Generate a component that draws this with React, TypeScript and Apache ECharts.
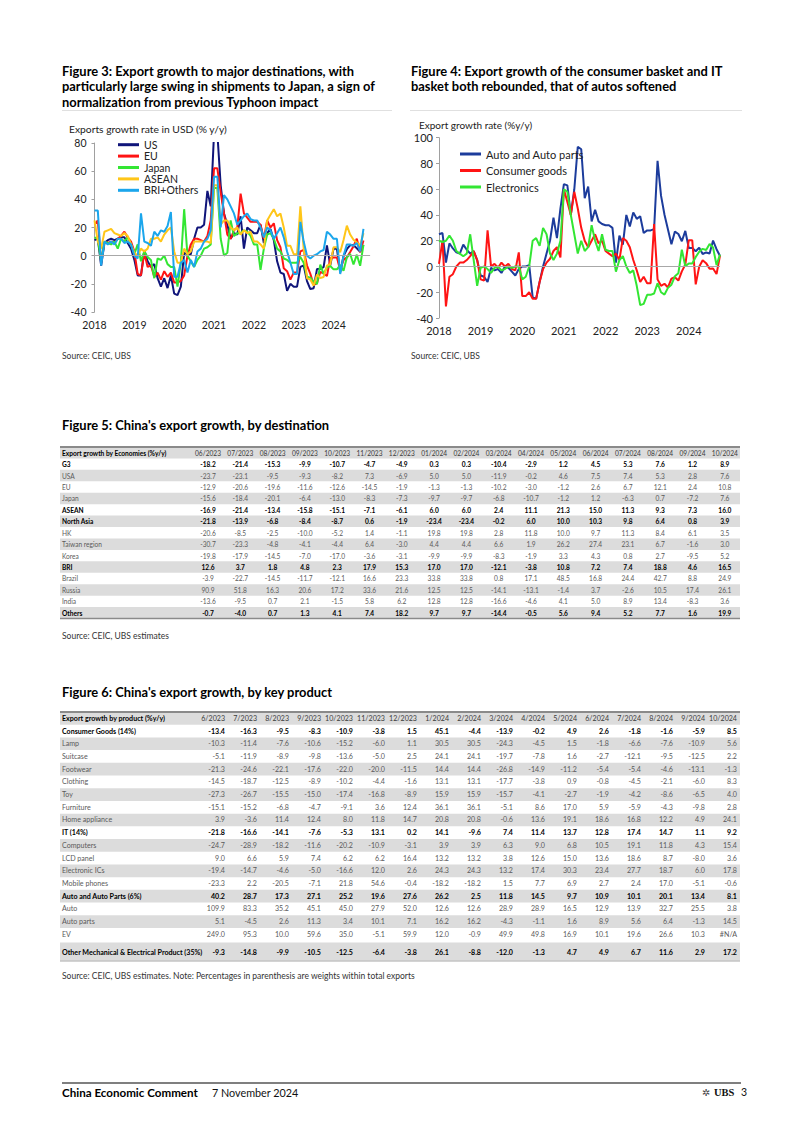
import React, { useEffect, useRef } from 'react';
import * as echarts from 'echarts';

const FONT = 'Lato, "Open Sans", "Noto Sans", sans-serif';

// ---------- Figure 3 / 4 categories ----------
const YEARS = [2018, 2019, 2020, 2021, 2022, 2023, 2024];
const MONTHS_FIG3 = YEARS.flatMap((y) => Array.from({ length: 12 }, (_, m) => `${y}-${String(m + 1).padStart(2, '0')}`));
const MONTHS_FIG4 = MONTHS_FIG3.slice(0, 82);

// ---------- Figure 3: exports growth by destination (% y/y), Jan 2018 - Oct 2024 ----------
const US = [
  11, 12, -7, 9, 11, 12, 11, 12, 13, 13, 9, 5,
  -3, -14, -14, 4, -4, -8, -6, -16, -22, -16, -23, -14,
  -27, -28, -22, 2, 1, 1, 12, 20, 20, 22, 46, 35,
  87, 87, 50, 30, 22, 12, 16, 15, 28, 5, 20, 18,
  16, 16, 22, 9, 16, 19, 11, -4, -12, -13, -25, -20,
  -22, -22, -8, -7, -18, -23.7, -23.1, -9.5, -9.3, -8.2, 7.3, -6.9,
  5.0, 5.0, -11.9, -0.2, 4.6, 7.5, 7.4, 5.3, 2.8, 7.6,
];
const EU = [
  22, 25, -5, 10, 9, 10, 9, 12, 14, 17, 13, 10,
  3, -13, -14, 2, -8, -7, -15, -12, -17, -11, -15, -12,
  -19, -19, -18, -14, 0, 8, 12, 12, 11, 10, 14, 25,
  62, 62, 45, 30, 15, 12, 18, 20, 44, 30, 27, 24,
  24, 24, 22, 12, 25, 20, 23, 11, 6, -9, -11, -17,
  -12, -12, 3, 4, -7, -12.9, -20.6, -19.6, -11.6, -12.6, -14.5, -1.9,
  -1.3, -1.3, -10.2, -3.0, -1.2, 2.6, 6.7, 12.1, 2.4, 10.8,
];
const JAPAN = [
  13, 12, -4, 10, 9, 8, 10, 5, 12, 10, 13, 8,
  1, 8, -4, 3, -1, -3, -16, -2, -3, 0, -6, -8,
  -8, -22, -5, 33, 0, -4, -8, -3, 0, 5, 6, 8,
  48, 48, 12, 0, 2, 25, 14, 16, 16, 18, 17, 14,
  8, 8, -10, 5, 15, 16, 12, 5, 3, -2, -3, -5,
  -5, -5, -1, -5, -15, -15.6, -18.4, -20.1, -6.4, -13.0, -8.3, -7.3,
  -9.7, -9.7, -6.8, -10.7, -1.2, 1.2, -6.3, 0.7, -7.2, 7.6,
];
const ASEAN = [
  25, 10, 5, 17, 18, 19, 16, 15, 14, 16, 14, 8,
  2, 0, 5, 3, 5, 12, 12, 13, 10, 15, 18, 20,
  3, -5, -5, 5, 1, 3, 10, 10, 10, 10, 10, 9,
  50, 50, 22, 25, 25, 20, 18, 20, 15, 18, 16, 17,
  10, 10, 8, 5, 25, 29, 33, 28, 30, 20, 7, 7,
  1, 1, 35, 5, -16, -16.9, -21.4, -13.4, -15.8, -15.1, -7.1, -6.1,
  6.0, 6.0, 2.4, 11.1, 21.3, 15.0, 11.3, 9.3, 7.3, 16.0,
];
const BRI_OTHERS = [
  32, 32, -7, 10, 8, 10, 8, 12, 12, 9, 10, 8,
  0, -2, 30, 10, 9, 7, 17, 14, 18, 17, 21, 31,
  -15, -15, -5, -3, -12, -3, -8, 3, 5, 10, 12, 18,
  56, 56, 20, 43, 40, 35, 30, 22, 25, 28, 30, 26,
  25, 25, 20, 13, 20, 18, 12, 16, 20, 13, 3, -5,
  -13, -13, 24, 10, 0, -2, 0, 1, 3, 4, 17, 15,
  12, 12, -13, 0, 8, 8, 7, 9, 3, 19,
];

// ---------- Figure 4: export growth by basket (% y/y), Jan 2018 - Oct 2024 ----------
const AUTO = [
  25, 26, 3, 18, 14, 11, 10, 17, 13, 10, 12, 5,
  -7, -8, -12, -1, -3, -2, -5, 0, -1, -4, -7, -2,
  0, 0, 1, -24, -25, -12, 0, 10, 20, 38, 22, 45,
  64, 63, 40, 60, 93, 91, 53, 62, 35, 44, 35, 33,
  32, 32, 30, 3, 24, 17, 40, 31, 42, 37, 39, 26,
  28, 28, 29, 82, 55, 40.2, 28.7, 17.3, 27.1, 25.2, 19.6, 27.6,
  14.4, 14.4, 11.8, 14.5, 9.7, 10.9, 10.1, 20.1, 13.4, 8.1,
];
const CONSUMER = [
  2, 20, -31, -8, -6, 0, 3, 3, 5, 8, 12, 5,
  -10, -11, 28, 0, 2, -1, 3, 0, 2, -2, -3, 11,
  -23, -23, -20, -25, -25, -12, -2, 3, 6, 12, 15, 7,
  60, 50, 40, 58, 45, 30, 20, 15, 20, 25, 18, 20,
  12, 10, 8, 10, 5, 22, 20, 15, 5, -3, -12, -8,
  -13, -13, 33, -10, -15, -13.4, -16.3, -9.5, -8.3, -10.9, -3.8, 1.5,
  20.4, 20.4, -13.9, -0.2, 4.9, 2.6, -1.8, -1.6, -5.9, 8.5,
];
const ELECTRONICS = [
  20, 19, 20, 24, 20, 12, 10, 8, 10, 25, 5, -15,
  -1, 0, -2, -5, -1, 0, -3, -2, 0, -1, 0, 0,
  -10, -8, 0, 20, 22, 16, 30, 25, 10, 5, 10, 20,
  60, 58, 40, 25, 10, 20, 12, 15, 32, 20, 12, 25,
  13, 12, 12, -4, 5, 8, 0, -5, -3, -15, -30, -29,
  -22, -22, -21, -13, -20, -21.8, -16.6, -14.1, -7.6, -5.3, 13.1, 0.2,
  2.3, 2.3, 7.4, 11.4, 13.7, 12.8, 17.4, 14.7, 1.1, 9.2,
];

// ---------- Figure 5 table ----------
const T5_HEADER = 'Export growth by Economies (%y/y)';
const T5_COLS = ['06/2023', '07/2023', '08/2023', '09/2023', '10/2023', '11/2023', '12/2023', '01/2024', '02/2024', '03/2024', '04/2024', '05/2024', '06/2024', '07/2024', '08/2024', '09/2024', '10/2024'];
const T5_NAMES = ['G3', 'USA', 'EU', 'Japan', 'ASEAN', 'North Asia', 'HK', 'Taiwan region', 'Korea', 'BRI', 'Brazil', 'Russia', 'India', 'Others'];
const T5_BOLD = [true, false, false, false, true, true, false, false, false, true, false, false, false, true];
const T5_VALUES = [
  ['-18.2', '-21.4', '-15.3', '-9.9', '-10.7', '-4.7', '-4.9', '0.3', '0.3', '-10.4', '-2.9', '1.2', '4.5', '5.3', '7.6', '1.2', '8.9'],
  ['-23.7', '-23.1', '-9.5', '-9.3', '-8.2', '7.3', '-6.9', '5.0', '5.0', '-11.9', '-0.2', '4.6', '7.5', '7.4', '5.3', '2.8', '7.6'],
  ['-12.9', '-20.6', '-19.6', '-11.6', '-12.6', '-14.5', '-1.9', '-1.3', '-1.3', '-10.2', '-3.0', '-1.2', '2.6', '6.7', '12.1', '2.4', '10.8'],
  ['-15.6', '-18.4', '-20.1', '-6.4', '-13.0', '-8.3', '-7.3', '-9.7', '-9.7', '-6.8', '-10.7', '-1.2', '1.2', '-6.3', '0.7', '-7.2', '7.6'],
  ['-16.9', '-21.4', '-13.4', '-15.8', '-15.1', '-7.1', '-6.1', '6.0', '6.0', '2.4', '11.1', '21.3', '15.0', '11.3', '9.3', '7.3', '16.0'],
  ['-21.8', '-13.9', '-6.8', '-8.4', '-8.7', '0.6', '-1.9', '-23.4', '-23.4', '-0.2', '6.0', '10.0', '10.3', '9.8', '6.4', '0.8', '3.9'],
  ['-20.6', '-8.5', '-2.5', '-10.0', '-5.2', '1.4', '-1.1', '19.8', '19.8', '2.8', '11.8', '10.0', '9.7', '11.3', '8.4', '6.1', '3.5'],
  ['-30.7', '-23.3', '-4.8', '-4.1', '-4.4', '6.4', '-3.0', '4.4', '4.4', '6.6', '1.9', '26.2', '27.4', '23.1', '6.7', '-1.6', '3.0'],
  ['-19.8', '-17.9', '-14.5', '-7.0', '-17.0', '-3.6', '-3.1', '-9.9', '-9.9', '-8.3', '-1.9', '3.3', '4.3', '0.8', '2.7', '-9.5', '5.2'],
  ['12.6', '3.7', '1.8', '4.8', '2.3', '17.9', '15.3', '17.0', '17.0', '-12.1', '-3.8', '10.8', '7.2', '7.4', '18.8', '4.6', '16.5'],
  ['-3.9', '-22.7', '-14.5', '-11.7', '-12.1', '16.6', '23.3', '33.8', '33.8', '0.8', '17.1', '48.5', '16.8', '24.4', '42.7', '8.8', '24.9'],
  ['90.9', '51.8', '16.3', '20.6', '17.2', '33.6', '21.6', '12.5', '12.5', '-14.1', '-13.1', '-1.4', '3.7', '-2.6', '10.5', '17.4', '26.1'],
  ['-13.6', '-9.5', '0.7', '2.1', '-1.5', '5.8', '6.2', '12.8', '12.8', '-16.6', '-4.6', '4.1', '5.0', '8.9', '13.4', '-8.3', '3.6'],
  ['-0.7', '-4.0', '0.7', '1.3', '4.1', '7.4', '18.2', '9.7', '9.7', '-14.4', '-0.5', '5.6', '9.4', '5.2', '7.7', '1.6', '19.9'],
];

// ---------- Figure 6 table ----------
const T6_HEADER = 'Export growth by product (%y/y)';
const T6_COLS = ['6/2023', '7/2023', '8/2023', '9/2023', '10/2023', '11/2023', '12/2023', '1/2024', '2/2024', '3/2024', '4/2024', '5/2024', '6/2024', '7/2024', '8/2024', '9/2024', '10/2024'];
const T6_NAMES = ['Consumer Goods (14%)', 'Lamp', 'Suitcase', 'Footwear', 'Clothing', 'Toy', 'Furniture', 'Home appliance', 'IT (14%)', 'Computers', 'LCD panel', 'Electronic ICs', 'Mobile phones', 'Auto and Auto Parts (6%)', 'Auto', 'Auto parts', 'EV', 'Other Mechanical & Electrical Product (35%)'];
const T6_BOLD = [true, false, false, false, false, false, false, false, true, false, false, false, false, true, false, false, false, true];
const T6_VALUES = [
  ['-13.4', '-16.3', '-9.5', '-8.3', '-10.9', '-3.8', '1.5', '45.1', '-4.4', '-13.9', '-0.2', '4.9', '2.6', '-1.8', '-1.6', '-5.9', '8.5'],
  ['-10.3', '-11.4', '-7.6', '-10.6', '-15.2', '-6.0', '1.1', '30.5', '30.5', '-24.3', '-4.5', '1.5', '-1.8', '-6.6', '-7.6', '-10.9', '5.6'],
  ['-5.1', '-11.9', '-8.9', '-9.8', '-13.6', '-5.0', '2.5', '24.1', '24.1', '-19.7', '-7.8', '1.6', '-2.7', '-12.1', '-9.5', '-12.5', '2.2'],
  ['-21.3', '-24.6', '-22.1', '-17.6', '-22.0', '-20.0', '-11.5', '14.4', '14.4', '-26.8', '-14.9', '-11.2', '-5.4', '-5.4', '-4.6', '-13.1', '-1.3'],
  ['-14.5', '-18.7', '-12.5', '-8.9', '-10.2', '-4.4', '-1.6', '13.1', '13.1', '-17.7', '-3.8', '0.9', '-0.8', '-4.5', '-2.1', '-6.0', '8.3'],
  ['-27.3', '-26.7', '-15.5', '-15.0', '-17.4', '-16.8', '-8.9', '15.9', '15.9', '-15.7', '-4.1', '-2.7', '-1.9', '-4.2', '-8.6', '-6.5', '4.0'],
  ['-15.1', '-15.2', '-6.8', '-4.7', '-9.1', '3.6', '12.4', '36.1', '36.1', '-5.1', '8.6', '17.0', '5.9', '-5.9', '-4.3', '-9.8', '2.8'],
  ['3.9', '-3.6', '11.4', '12.4', '8.0', '11.8', '14.7', '20.8', '20.8', '-0.6', '13.6', '19.1', '18.6', '16.8', '12.2', '4.9', '24.1'],
  ['-21.8', '-16.6', '-14.1', '-7.6', '-5.3', '13.1', '0.2', '14.1', '-9.6', '7.4', '11.4', '13.7', '12.8', '17.4', '14.7', '1.1', '9.2'],
  ['-24.7', '-28.9', '-18.2', '-11.6', '-20.2', '-10.9', '-3.1', '3.9', '3.9', '6.3', '9.0', '6.8', '10.5', '19.1', '11.8', '4.3', '15.4'],
  ['9.0', '6.6', '5.9', '7.4', '6.2', '6.2', '16.4', '13.2', '13.2', '3.8', '12.6', '15.0', '13.6', '18.6', '8.7', '-8.0', '3.6'],
  ['-19.4', '-14.7', '-4.6', '-5.0', '-16.6', '12.0', '2.6', '24.3', '24.3', '13.2', '17.4', '30.3', '23.4', '27.7', '18.7', '6.0', '17.8'],
  ['-23.3', '2.2', '-20.5', '-7.1', '21.8', '54.6', '-0.4', '-18.2', '-18.2', '1.5', '7.7', '6.9', '2.7', '2.4', '17.0', '-5.1', '-0.6'],
  ['40.2', '28.7', '17.3', '27.1', '25.2', '19.6', '27.6', '26.2', '2.5', '11.8', '14.5', '9.7', '10.9', '10.1', '20.1', '13.4', '8.1'],
  ['109.9', '83.3', '35.2', '45.1', '45.0', '27.9', '52.0', '12.6', '12.6', '28.9', '28.9', '16.5', '12.9', '13.9', '32.7', '25.5', '3.8'],
  ['5.1', '-4.5', '2.6', '11.3', '3.4', '10.1', '7.1', '16.2', '16.2', '-4.3', '-1.1', '1.6', '8.9', '5.6', '6.4', '-1.3', '14.5'],
  ['249.0', '95.3', '10.0', '59.6', '35.0', '-5.1', '59.9', '12.0', '-0.9', '49.9', '49.8', '16.9', '10.1', '19.6', '26.6', '10.3', '#N/A'],
  ['-9.3', '-14.8', '-9.9', '-10.5', '-12.5', '-6.4', '-3.8', '26.1', '-8.8', '-12.0', '-1.3', '4.7', '4.9', '6.7', '11.6', '2.9', '17.2'],
];

// ---------- helpers ----------
const STRIPE = '#dcdcdc';

function txt(x: number, y: number, text: string, size: number, weight: any = 'normal', color = '#000', align = 'left', family = FONT) {
  return {
    type: 'text', x, y, silent: true,
    style: {
      text, fontSize: size, fontWeight: weight, fontFamily: family, fill: color,
      align, verticalAlign: 'middle', textAlign: align, textVerticalAlign: 'middle',
    },
  };
}

type TableCfg = {
  header: string; cols: string[]; names: string[]; bold: boolean[]; values: string[][];
  xMin: number; xMax: number; colPos: (c: number) => number; align: string;
  rowBand: (r: number) => [number, number]; rowText: (r: number) => number;
  bottom: number; topColor: string; bottomColor: string; fontSize: number;
};

function tableSeries(cfg: TableCfg, axisIndex: number) {
  const n = cfg.names.length + 1;
  return {
    type: 'custom',
    xAxisIndex: axisIndex,
    yAxisIndex: axisIndex,
    silent: true,
    encode: { x: 0, y: 1 },
    data: Array.from({ length: n }, (_, r) => [0, r]),
    renderItem: (_params: any, api: any) => {
      const r = api.value(1) as number;
      const [b0, b1] = cfg.rowBand(r);
      const p0 = api.coord([cfg.xMin, b0]);
      const p1 = api.coord([cfg.xMax, b1]);
      const ty = api.coord([0, cfg.rowText(r)])[1];
      const children: any[] = [];
      if (r % 2 === 0) {
        children.push({ type: 'rect', shape: { x: p0[0], y: p0[1], width: p1[0] - p0[0], height: p1[1] - p0[1] }, style: { fill: STRIPE } });
      }
      const header = r === 0;
      const bold = header ? true : cfg.bold[r - 1];
      children.push(txt(p0[0] + 2, ty, header ? cfg.header : cfg.names[r - 1], cfg.fontSize, bold ? 'bold' : 'normal', bold ? '#000' : '#5a5a5a'));
      const cells = header ? cfg.cols : cfg.values[r - 1];
      cells.forEach((s, c) => {
        const x = api.coord([cfg.colPos(c), 0])[0];
        const isB = !header && bold;
        children.push(txt(x, ty, s, cfg.fontSize, isB ? 'bold' : 'normal', header ? '#3a3a3a' : isB ? '#000' : '#5a5a5a', cfg.align));
      });
      if (header) {
        const t = api.coord([0, 0])[1];
        children.push({ type: 'line', shape: { x1: p0[0], y1: t, x2: p1[0], y2: t }, style: { stroke: cfg.topColor, lineWidth: 2 } });
      }
      if (r === n - 1) {
        const yb = api.coord([0, cfg.bottom])[1];
        children.push({ type: 'line', shape: { x1: p0[0], y1: yb, x2: p1[0], y2: yb }, style: { stroke: cfg.bottomColor, lineWidth: 1.5 } });
      }
      return { type: 'group', children };
    },
  };
}

function lineSeries(name: string, data: number[], color: string, idx: number, extra: any = {}) {
  return {
    type: 'line', name, data, xAxisIndex: idx, yAxisIndex: idx,
    showSymbol: false, symbol: 'none', lineStyle: { width: 2, color }, itemStyle: { color },
    ...extra,
  };
}

const zeroLine = {
  silent: true, symbol: ['none', 'none'], label: { show: false },
  lineStyle: { color: '#a8a8a8', width: 1, type: 'solid' }, data: [{ yAxis: 0 }],
};

const C_US = '#10157a';
const C_EU = '#ff1414';
const C_JP = '#33e633';
const C_AS = '#ffc619';
const C_BRI = '#1ba6ec';
const C_AUTO = '#1c3c9c';

function buildOption() {
  const axisLabel = { fontSize: 10.5, color: '#222', fontFamily: FONT };
  const t5: TableCfg = {
    header: T5_HEADER, cols: T5_COLS, names: T5_NAMES, bold: T5_BOLD, values: T5_VALUES,
    xMin: -4.082, xMax: 16.97, colPos: (c) => c + 0.5, align: 'center',
    rowBand: (r) => [r, r + 1], rowText: (r) => r + 0.5, bottom: 15,
    topColor: '#8a8a8a', bottomColor: '#8a8a8a', fontSize: 6.6,
  };
  const t6: TableCfg = {
    header: T6_HEADER, cols: T6_COLS, names: T6_NAMES, bold: T6_BOLD, values: T6_VALUES,
    xMin: -4.156, xMax: 17.094, colPos: (c) => c + 1, align: 'right',
    rowBand: (r) => (r < 18 ? [r, r + 1] : [18.15, 19.6]), rowText: (r) => (r < 18 ? r + 0.5 : 18.96), bottom: 19.6,
    topColor: '#8a8a8a', bottomColor: '#c4c4c4', fontSize: 7.1,
  };

  return {
    animation: false,
    backgroundColor: '#ffffff',
    textStyle: { fontFamily: FONT },
    grid: [
      { left: 94.5, top: 143, width: 275.6, height: 169 },
      { left: 439, top: 137.7, width: 281, height: 180.3 },
      { left: 60, top: 447, width: 680, height: 171.5 },
      { left: 60, top: 712, width: 680, height: 249 },
    ],
    xAxis: [
      {
        gridIndex: 0, type: 'category', data: MONTHS_FIG3, boundaryGap: false,
        axisLine: { show: false }, axisTick: { show: false }, splitLine: { show: false },
        axisLabel: { ...axisLabel, interval: 11, margin: 7, formatter: (v: string) => v.slice(0, 4) },
      },
      {
        gridIndex: 1, type: 'category', data: MONTHS_FIG4, boundaryGap: false,
        axisLine: { show: false }, axisTick: { show: false }, splitLine: { show: false },
        axisLabel: { ...axisLabel, fontSize: 11, interval: 11, margin: 7, formatter: (v: string) => v.slice(0, 4) },
      },
      { gridIndex: 2, type: 'value', min: t5.xMin, max: t5.xMax, show: false },
      { gridIndex: 3, type: 'value', min: t6.xMin, max: t6.xMax, show: false },
    ],
    yAxis: [
      {
        gridIndex: 0, type: 'value', min: -40, max: 80, interval: 20,
        axisLine: { show: true, lineStyle: { color: '#a0a0a0' } },
        axisTick: { show: true, length: 3, lineStyle: { color: '#a0a0a0' } },
        splitLine: { show: false }, axisLabel: { ...axisLabel, margin: 8 },
      },
      {
        gridIndex: 1, type: 'value', min: -40, max: 100, interval: 20,
        axisLine: { show: true, lineStyle: { color: '#a0a0a0' } },
        axisTick: { show: true, length: 3, lineStyle: { color: '#a0a0a0' } },
        splitLine: { show: false }, axisLabel: { ...axisLabel, fontSize: 11, margin: 6 },
      },
      { gridIndex: 2, type: 'value', min: 0, max: 15, inverse: true, show: false },
      { gridIndex: 3, type: 'value', min: 0, max: 19.6, inverse: true, show: false },
    ],
    legend: [
      {
        orient: 'vertical', left: 113, top: 134, itemWidth: 21, itemHeight: 3, itemGap: 0, icon: 'rect',
        textStyle: { fontSize: 10.5, lineHeight: 11.4, color: '#222', fontFamily: FONT },
        data: ['US', 'EU', 'Japan', 'ASEAN', 'BRI+Others'],
      },
      {
        orient: 'vertical', left: 455, top: 142, itemWidth: 21, itemHeight: 3, itemGap: 2.5, icon: 'rect',
        textStyle: { fontSize: 11, lineHeight: 14, color: '#222', fontFamily: FONT },
        data: ['Auto and Auto parts', 'Consumer goods', 'Electronics'],
      },
    ],
    series: [
      lineSeries('US', US, C_US, 0, { markLine: zeroLine }),
      lineSeries('EU', EU, C_EU, 0),
      lineSeries('Japan', JAPAN, C_JP, 0),
      lineSeries('ASEAN', ASEAN, C_AS, 0),
      lineSeries('BRI+Others', BRI_OTHERS, C_BRI, 0),
      lineSeries('Auto and Auto parts', AUTO, C_AUTO, 1, { markLine: zeroLine }),
      lineSeries('Consumer goods', CONSUMER, C_EU, 1),
      lineSeries('Electronics', ELECTRONICS, C_JP, 1),
      tableSeries(t5, 2),
      tableSeries(t6, 3),
    ],
    graphic: [
      txt(62, 70.5, 'Figure 3: Export growth to major destinations, with', 12.9, 'bold'),
      txt(62, 86, 'particularly large swing in shipments to Japan, a sign of', 12.9, 'bold'),
      txt(62, 101.5, 'normalization from previous Typhoon impact', 12.9, 'bold'),
      txt(411, 70.5, 'Figure 4: Export growth of the consumer basket and IT', 12.9, 'bold'),
      txt(411, 86, 'basket both rebounded, that of autos softened', 12.9, 'bold'),
      { type: 'line', silent: true, shape: { x1: 62, y1: 110.5, x2: 392, y2: 110.5 }, style: { stroke: '#e0e0e0', lineWidth: 1 } },
      { type: 'line', silent: true, shape: { x1: 410, y1: 110.5, x2: 742, y2: 110.5 }, style: { stroke: '#e0e0e0', lineWidth: 1 } },
      txt(69, 129, 'Exports growth rate in USD (% y/y)', 10.3, 'normal', '#222'),
      txt(419, 124.5, 'Export growth rate (%y/y)', 10, 'normal', '#222'),
      txt(62, 356, 'Source: CEIC, UBS', 8.5, 'normal', '#333'),
      txt(411, 356, 'Source: CEIC, UBS', 8.5, 'normal', '#333'),
      txt(62, 425, "Figure 5: China's export growth, by destination", 12.9, 'bold'),
      txt(62, 636, 'Source: CEIC, UBS estimates', 8.5, 'normal', '#333'),
      txt(62, 692, "Figure 6: China's export growth, by key product", 12.9, 'bold'),
      txt(62, 976, 'Source: CEIC, UBS estimates. Note: Percentages in parenthesis are weights within total exports', 8.5, 'normal', '#333'),
      { type: 'line', silent: true, shape: { x1: 62, y1: 1083, x2: 741, y2: 1083 }, style: { stroke: '#555', lineWidth: 1.3 } },
      txt(62, 1092, 'China Economic Comment', 11.6, 'bold'),
      txt(212, 1092, '7 November 2024', 10.8, 'normal', '#111'),
      txt(706, 1092, '✲', 10, 'normal', '#444', 'center', '"DejaVu Sans", sans-serif'),
      txt(714, 1092, 'UBS', 10.5, 'bold', '#111', 'left', '"Liberation Serif", serif'),
      txt(741, 1092, '3', 10.5, 'normal', '#111'),
    ],
  };
}

export default function App() {
  const ref = useRef<HTMLDivElement>(null);
  useEffect(() => {
    if (!ref.current) return;
    const chart = echarts.init(ref.current, undefined, { renderer: 'svg', width: 802, height: 1134 });
    chart.setOption(buildOption() as any);
    return () => chart.dispose();
  }, []);
  return (
    <div
      ref={ref}
      style={{ position: 'absolute', left: 0, top: 0, width: 802, height: 1134, background: '#fff' }}
    />
  );
}
